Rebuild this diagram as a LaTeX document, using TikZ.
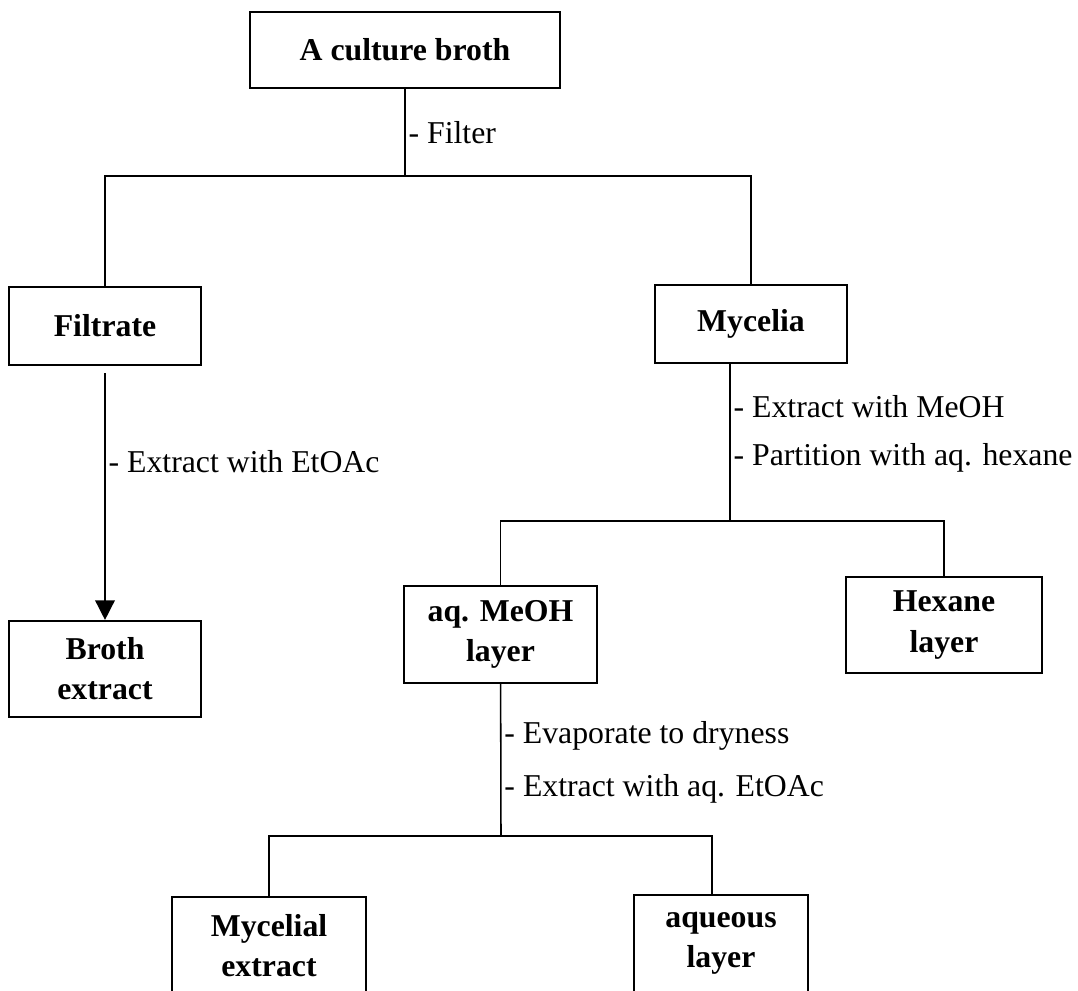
\documentclass[tikz,border=0pt]{standalone}
\usepackage{fontspec}
\setmainfont{Liberation Serif}
\usetikzlibrary{arrows.meta}

\begin{document}
\begin{tikzpicture}[x=0.025cm,y=-0.025cm]

\tikzset{%
  box/.style  = {draw,line width=1.5pt,inner sep=0pt,align=center,
                 font=\fontsize{22.6}{28.5}\selectfont\bfseries},
  link/.style = {line width=1.1pt},
  flow/.style = {link,-{Triangle[width=14pt,length=14pt]}},
  note/.style = {anchor=west,inner sep=2pt,
                 font=\fontsize{22.6}{28.5}\selectfont},
}

\useasboundingbox (0,0) rectangle (1078,991);

\coordinate(split)  at (405,176);  % Filter
\coordinate(part)   at (730,521);  % Partition
\coordinate(evap)   at (501,836);  % Evaporation
\coordinate(aqdrop) at (712,836);  % aqueous branch

% Boxes
\node[box,minimum width=7.75cm,minimum height=1.9cm]  (broth)   at (405,50)    {A culture broth};
\node[box,minimum width=4.8cm,minimum height=1.95cm]  (filtrate) at (105,326)  {Filtrate};
\node[box,minimum width=4.8cm,minimum height=1.95cm]  (mycelia) at (751,324)   {Mycelia};
\node[box,minimum width=4.8cm,minimum height=2.4cm]   (brothext) at (105,669)  {Broth\\extract};
\node[box,minimum width=4.825cm,minimum height=2.425cm] (meoh)  at (500.5,634.5) {aq. MeOH\\layer};
\node[box,minimum width=4.9cm,minimum height=2.4cm]   (hexane)  at (944,625)   {Hexane\\layer};
\node[box,minimum width=4.85cm,minimum height=2.425cm] (mycext) at (269,945.5) {Mycelial\\extract};
\node[box,minimum width=4.35cm,minimum height=2.425cm] (aqueous) at (721,943.5) {aqueous\\layer};

% Filter
\draw[link] (broth) -- (split) node[note,midway]{- Filter};
\draw[link] (filtrate) |- (split) -| (mycelia);

% Filtrate
\draw[flow] ([yshift=-5pt]filtrate.south) -- (brothext.north)
  node[note,pos=0.36]{- Extract with EtOAc};

% Mycelia
\draw[link] (part |- mycelia.south) -- (part)
  node[note,pos=0.27]{- Extract with MeOH}
  node[note,pos=0.6]{- Partition with aq. hexane};
\draw[link] (meoh) |- (part) -| (hexane);

% aq. MeOH layer
\draw[link] (meoh) -- (evap)
  node[note,pos=0.34]{- Evaporate to dryness}
  node[note,pos=0.69]{- Extract with aq. EtOAc};
\draw[link] (mycext) |- (evap) -- (aqdrop) -- (aqdrop |- aqueous.north);

\end{tikzpicture}
\end{document}
